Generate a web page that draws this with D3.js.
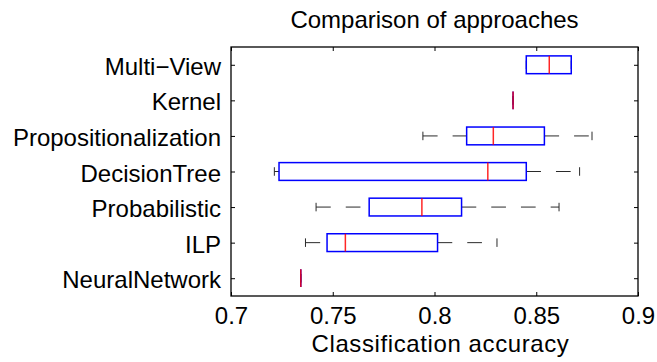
<!DOCTYPE html>
<html>
<head>
<meta charset="utf-8">
<script src="https://cdn.jsdelivr.net/npm/d3@7"></script>
<style>
  body { margin: 0; background: #fff; }
  text { font-family: "Liberation Sans", Arial, Helvetica, sans-serif; fill: #000; }
</style>
</head>
<body>
<svg id="chart"></svg>
<script>
// approaches, top to bottom
const categories = ['Multi\u2212View', 'Kernel', 'Propositionalization', 'DecisionTree', 'Probabilistic', 'ILP', 'NeuralNetwork'];
const whiskerLow  = [0.8451, 0.8386, 0.7943, 0.7213, 0.7418, 0.7366, 0.7343];
const q1          = [0.8451, 0.8386, 0.8158, 0.7236, 0.7679, 0.7472, 0.7343];
const medians     = [0.8564, 0.8386, 0.8289, 0.8262, 0.7938, 0.7562, 0.7343];
const q3          = [0.8672, 0.8386, 0.8540, 0.8451, 0.8133, 0.8015, 0.7343];
const whiskerHigh = [0.8672, 0.8386, 0.8774, 0.8713, 0.8612, 0.8307, 0.7343];
const xTicks = [0.7, 0.75, 0.8, 0.85, 0.9];

const W = 657, H = 362;
const margin = { top: 47, right: 19, bottom: 66, left: 231 };
const width = W - margin.left - margin.right;
const height = H - margin.top - margin.bottom;
const fontSize = 24;

const svg = d3.select('#chart').attr('width', W).attr('height', H);
const g = svg.append('g').attr('transform', `translate(${margin.left},${margin.top})`);

const x = d3.scaleLinear().domain([0.7, 0.9]).range([0, width]);
const y = d3.scalePoint().domain(categories).range([0, height]).padding(0.5);
const half = y.step() * 0.25;   // box half-height
const capHalf = y.step() * 0.12;

const data = categories.map((c, i) => ({
  name: c, lo: whiskerLow[i], q1: q1[i], med: medians[i], q3: q3[i], hi: whiskerHigh[i]
}));

const rows = g.selectAll('.row').data(data).enter().append('g')
  .attr('transform', d => `translate(0,${y(d.name)})`);

// whiskers
rows.append('line')
  .attr('x1', d => x(d.lo)).attr('x2', d => x(d.q1))
  .attr('stroke', '#2a2a2a').attr('stroke-dasharray', '14.7,15');
rows.append('line')
  .attr('x1', d => x(d.q3)).attr('x2', d => x(d.hi))
  .attr('stroke', '#2a2a2a').attr('stroke-dasharray', '14.7,15');
['lo', 'hi'].forEach(k => {
  rows.append('line')
    .attr('x1', d => x(d[k])).attr('x2', d => x(d[k]))
    .attr('y1', -capHalf).attr('y2', capHalf)
    .attr('stroke', '#2a2a2a');
});

// boxes
rows.append('rect')
  .attr('x', d => x(d.q1)).attr('width', d => x(d.q3) - x(d.q1))
  .attr('y', -half).attr('height', 2 * half)
  .attr('fill', 'none').attr('stroke', '#0000ff').attr('stroke-width', 1.5);
rows.filter(d => d.q3 === d.q1).append('line')
  .attr('x1', d => x(d.q1)).attr('x2', d => x(d.q1))
  .attr('y1', -half).attr('y2', half)
  .attr('stroke', '#0000ff').attr('stroke-width', 1.5);

// medians
rows.append('line')
  .attr('x1', d => x(d.med)).attr('x2', d => x(d.med))
  .attr('y1', -half).attr('y2', half)
  .attr('stroke', '#ff0000').attr('stroke-opacity', 0.85).attr('stroke-width', 1.5);

// axes frame
g.append('rect').attr('width', width).attr('height', height)
  .attr('fill', 'none').attr('stroke', '#000').attr('stroke-width', 1.3);

const xb = g.append('g').attr('transform', `translate(0,${height})`)
  .call(d3.axisBottom(x).tickValues(xTicks).tickSize(-4).tickPadding(11).tickFormat(d3.format('')));
const xt = g.append('g')
  .call(d3.axisTop(x).tickValues(xTicks).tickSize(-4).tickFormat(''));
const yl = g.append('g')
  .call(d3.axisLeft(y).tickSize(-4).tickPadding(10));
const yr = g.append('g').attr('transform', `translate(${width},0)`)
  .call(d3.axisRight(y).tickSize(-4).tickFormat(''));

[xb, xt, yl, yr].forEach(a => {
  a.select('.domain').remove();
  a.selectAll('.tick line').attr('stroke', '#000');
  a.selectAll('text').attr('font-size', fontSize).attr('font-family', null).attr('fill', '#000');
});
yl.selectAll('text').attr('dy', '0.4em');

// title and label
svg.append('text')
  .attr('x', margin.left + width / 2).attr('y', 28)
  .attr('text-anchor', 'middle').attr('font-size', fontSize)
  .text('Comparison of approaches');
svg.append('text')
  .attr('x', margin.left + width / 2 + 6).attr('y', 352)
  .attr('text-anchor', 'middle').attr('font-size', fontSize)
  .attr('letter-spacing', 0.6)
  .text('Classification accuracy');
</script>
</body>
</html>
